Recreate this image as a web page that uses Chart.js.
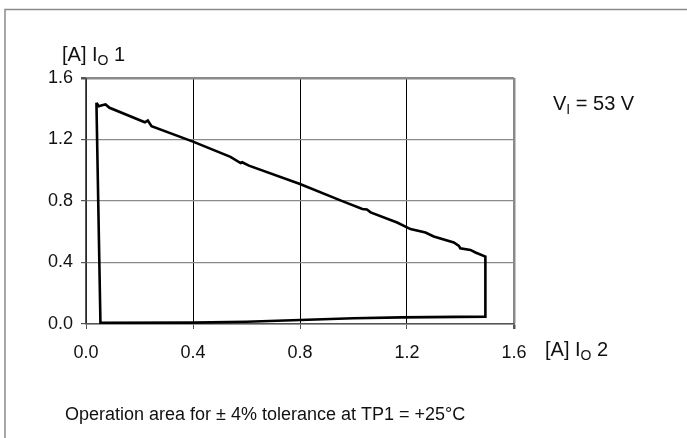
<!DOCTYPE html>
<html lang="en">
<head>
    <meta charset="utf-8" />
    <title>Operation area</title>
    <script src="https://cdn.jsdelivr.net/npm/chart.js"></script>
    <style>
        html, body { margin: 0; padding: 0; background: #fff; }
        #wrap { width: 687px; height: 438px; position: relative; }
    </style>
</head>
<body>
    <div id="wrap"><canvas id="areaChart" width="687" height="438"></canvas></div>

    <script>
        // outline of the operation area, walked clockwise from the top-left peak
        const io2 = [0.039, 0.048, 0.060, 0.073, 0.088, 0.220, 0.231, 0.245, 0.400, 0.540, 0.578, 0.584, 0.609,
                     0.800, 0.951, 1.033, 1.050, 1.064, 1.163, 1.213, 1.269, 1.300, 1.375, 1.394, 1.399, 1.437,
                     1.456, 1.493, 1.493, 1.180, 1.000, 0.800, 0.600, 0.400, 0.054, 0.039];
        const io1 = [1.439, 1.417, 1.423, 1.428, 1.406, 1.312, 1.323, 1.286, 1.186, 1.087, 1.047, 1.052, 1.030,
                     0.911, 0.804, 0.748, 0.745, 0.726, 0.660, 0.617, 0.595, 0.569, 0.530, 0.508, 0.493, 0.482,
                     0.465, 0.439, 0.048, 0.043, 0.037, 0.026, 0.015, 0.009, 0.008, 1.439];
        const tickValues = [0, 0.4, 0.8, 1.2, 1.6];

        const FONT = "'Liberation Sans', Arial, Helvetica, sans-serif";

        // draws "main" + subscript + "rest" starting at x, vertically centred on y
        function subText(ctx, x, y, main, sub, rest, size) {
            ctx.font = size + 'px ' + FONT;
            ctx.fillText(main, x, y);
            x += ctx.measureText(main).width;
            ctx.font = Math.round(size * 0.72) + 'px ' + FONT;
            ctx.fillText(sub, x, y + size * 0.3);
            x += ctx.measureText(sub).width;
            ctx.font = size + 'px ' + FONT;
            ctx.fillText(rest, x, y);
        }

        const decorations = {
            id: 'decorations',
            beforeDraw(chart) {
                const ctx = chart.ctx;
                ctx.save();
                ctx.strokeStyle = '#8a8a8a';
                ctx.lineWidth = 1.5;
                ctx.beginPath();
                ctx.moveTo(5, 438);
                ctx.lineTo(5, 9.5);
                ctx.lineTo(687, 9.5);
                ctx.stroke();
                ctx.restore();
            },
            afterDraw(chart) {
                const ctx = chart.ctx;
                ctx.save();
                ctx.fillStyle = '#111';
                ctx.textBaseline = 'middle';
                ctx.textAlign = 'left';
                subText(ctx, 62, 55, '[A] I', 'O', ' 1', 20);
                subText(ctx, 553, 104, 'V', 'I', ' = 53 V', 20);
                subText(ctx, 545, 350, '[A] I', 'O', ' 2', 20);
                ctx.font = '18px ' + FONT;
                ctx.fillText('Operation area for \u00b1 4% tolerance at TP1 = +25\u00b0C', 65, 415);
                ctx.restore();
            }
        };

        const points = io2.map((x, i) => ({ x: x, y: io1[i] }));

        const edge = (ctx) => Math.abs(ctx.tick.value - 1.6) < 1e-6;

        new Chart(document.getElementById('areaChart'), {
            type: 'scatter',
            data: {
                datasets: [{
                    data: points,
                    showLine: true,
                    borderColor: '#000',
                    borderWidth: 2.6,
                    pointRadius: 0,
                    tension: 0
                }]
            },
            options: {
                responsive: false,
                animation: false,
                layout: { padding: { left: 0, top: 78, right: 173, bottom: 64 } },
                plugins: { legend: { display: false }, tooltip: { enabled: false } },
                scales: {
                    x: {
                        type: 'linear',
                        min: 0, max: 1.6,
                        afterFit: (s) => { s.height = 50; },
                        afterBuildTicks: (s) => { s.ticks = tickValues.map(v => ({ value: v })); },
                        border: { color: '#555', width: 1.5 },
                        grid: {
                            color: (c) => edge(c) ? '#8a8a8a' : '#000',
                            lineWidth: (c) => edge(c) ? 2.5 : 1,
                            tickColor: '#555',
                            tickLength: 5
                        },
                        ticks: {
                            color: '#111',
                            font: { family: FONT, size: 18 },
                            padding: 13,
                            maxRotation: 0,
                            callback: (v) => v.toFixed(1)
                        }
                    },
                    y: {
                        type: 'linear',
                        min: 0, max: 1.6,
                        afterFit: (s) => { s.width = 86; },
                        afterBuildTicks: (s) => { s.ticks = tickValues.map(v => ({ value: v })); },
                        border: { color: '#555', width: 1.5 },
                        grid: {
                            color: '#8a8a8a',
                            lineWidth: (c) => edge(c) ? 2.5 : 1.2,
                            tickColor: '#555',
                            tickLength: 5
                        },
                        ticks: {
                            color: '#111',
                            font: { family: FONT, size: 18 },
                            padding: 8,
                            callback: (v) => v.toFixed(1)
                        }
                    }
                }
            },
            plugins: [decorations]
        });
    </script>
</body>
</html>
